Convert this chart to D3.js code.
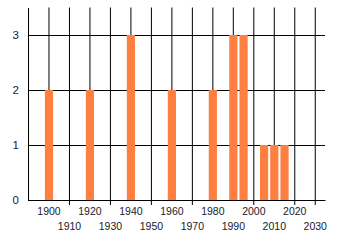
<!DOCTYPE html>
<html>
<head>
<meta charset="utf-8">
<script src="https://cdn.jsdelivr.net/npm/d3@7"></script>
<style>
  body { margin: 0; background: #fff; }
  text { font-family: "Liberation Sans", Arial, sans-serif; fill: #1a1a2e; }
</style>
</head>
<body>
<script>
// data
const years = [1900, 1920, 1940, 1960, 1980, 1990, 1995, 2005, 2010, 2015];
const counts = [2, 2, 3, 2, 2, 3, 3, 1, 1, 1];
const xTicks = [1900, 1910, 1920, 1930, 1940, 1950, 1960, 1970, 1980, 1990, 2000, 2010, 2020, 2030];
const yTicks = [0, 1, 2, 3];

var width = 340, height = 245;
var plotLeft = 28, plotRight = 325, plotTop = 7.5, plotBottom = 200;

var x = d3.scaleLinear().domain([1890, 2035]).range([plotLeft, plotRight]);
var y = d3.scaleLinear().domain([0, 3.5]).range([plotBottom, plotTop]);
var barW = x(1902) - x(1898);

var svg = d3.select("body").append("svg")
  .attr("width", width)
  .attr("height", height);

// vertical grid lines
svg.append("g")
  .attr("transform", "translate(0," + plotBottom + ")")
  .call(d3.axisBottom(x).tickValues(xTicks).tickSize(-(plotBottom - plotTop)).tickFormat(""))
  .call(g => g.select(".domain").remove())
  .selectAll("line").attr("stroke", "#000");

// horizontal grid lines + y labels
svg.append("g")
  .attr("transform", "translate(" + plotLeft + ",0)")
  .call(d3.axisLeft(y).tickValues(yTicks).tickSize(-(plotRight - plotLeft)).tickSizeOuter(0)
    .tickPadding(9).tickFormat(d3.format("d")))
  .call(g => g.selectAll("line").attr("stroke", "#000"))
  .call(g => g.select(".domain").attr("stroke", "#000"))
  .call(g => g.selectAll("text").attr("font-size", "11.5px").attr("fill", "#1a1a2e"));

// bars
svg.append("g")
  .selectAll("rect")
  .data(years)
  .enter()
  .append("rect")
  .attr("x", (d) => x(d) + 0.5 - barW / 2)
  .attr("width", barW)
  .attr("y", (d, i) => y(counts[i]))
  .attr("height", (d, i) => y(0) - y(counts[i]))
  .attr("fill", "#ff7f40");

// bottom axis with staggered labels, ticks hidden under bars
var xAxis = svg.append("g")
  .attr("transform", "translate(0," + plotBottom + ")")
  .call(d3.axisBottom(x).tickValues(xTicks).tickSize(5).tickSizeOuter(0).tickFormat(d3.format("d")));

xAxis.select(".domain").attr("stroke", "#000");
xAxis.selectAll(".tick line")
  .attr("stroke", "#000")
  .attr("y1", 0.5)
  .style("display", (d) => years.indexOf(d) >= 0 ? "none" : null);
xAxis.selectAll(".tick text")
  .attr("font-size", "10.5px")
  .attr("fill", "#1a1a2e")
  .attr("dy", null)
  .attr("y", (d, i) => i % 2 ? 29.5 : 14.5);
</script>
</body>
</html>
